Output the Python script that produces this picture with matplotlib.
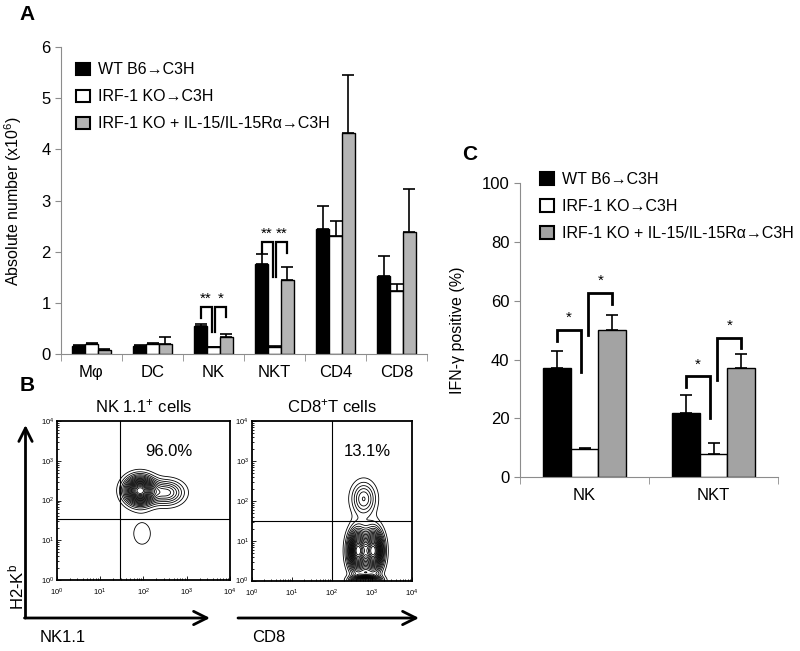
"""
Figura de tres paneles: numero absoluto de celulas (A),
citometria de flujo (B) y porcentaje IFN-gamma positivo (C)
"""
import numpy as np
import matplotlib.pyplot as plt
from matplotlib.patches import Patch
from matplotlib.ticker import LogLocator, NullFormatter

plt.rcParams['font.family'] = ['Liberation Sans', 'DejaVu Sans']
plt.rcParams['mathtext.default'] = 'regular'

# ---- datos ----
groups = ['WT B6→C3H', 'IRF-1 KO→C3H', 'IRF-1 KO + IL-15/IL-15Rα→C3H']

cells_a = ['Mφ', 'DC', 'NK', 'NKT', 'CD4', 'CD8']
wt_a = [0.15, 0.15, 0.55, 1.77, 2.45, 1.53]
wt_a_err = [0.03, 0.03, 0.03, 0.18, 0.45, 0.38]
ko_a = [0.20, 0.20, 0.14, 0.13, 2.30, 1.24]
ko_a_err = [0.02, 0.02, 0.0, 0.02, 0.30, 0.14]
il_a = [0.09, 0.20, 0.34, 1.45, 4.33, 2.39]
il_a_err = [0.02, 0.13, 0.06, 0.25, 1.13, 0.84]
# (categoria, par, altura, pata izq, pata der, etiqueta)
sig_a = [(2, 0, 0.92, 0.70, 0.43, '**'), (2, 1, 0.92, 0.43, 0.72, '*'),
         (3, 0, 2.19, 1.97, 1.51, '**'), (3, 1, 2.19, 1.51, 1.98, '**')]

cells_c = ['NK', 'NKT']
wt_c = [37, 22]
wt_c_err = [6, 6]
ko_c = [9.5, 8]
ko_c_err = [0.3, 3.5]
il_c = [50, 37]
il_c_err = [5, 5]
sig_c = [(0, 0, 50.2, 46.4, 35.8, '*'), (0, 1, 62.8, 48.3, 59.0, '*'),
         (1, 0, 34.4, 30.7, 20.0, '*'), (1, 1, 47.5, 33.2, 44.1, '*')]

# poblaciones (log10): cx, cy, sx, sy, peso
pops_nk = [(1.92, 2.25, 0.22, 0.22, 1.0),
           (2.55, 2.20, 0.25, 0.20, 0.35),
           (1.97, 1.17, 0.20, 0.28, 0.08)]
pops_cd8 = [(2.80, 2.05, 0.20, 0.28, 0.30),
            (2.65, 0.75, 0.15, 0.33, 1.0),
            (3.05, 0.75, 0.15, 0.33, 1.0),
            (2.85, 0.00, 0.22, 0.08, 0.9)]
gates = [(10**1.45, 10**1.53), (10**2.0, 10**1.49)]
pct = ['96.0%', '13.1%']
titles_b = ['NK 1.1$^{+}$ cells', 'CD8$^{+}$T cells']

fig = plt.figure(figsize=(8, 6.51), dpi=100)


def bar_panel(ax, cats, vals, errs, colors, w):
    x = np.arange(len(cats))
    for k in range(3):
        xs = x + (k - 1) * w
        ax.bar(xs, vals[k], w, color=colors[k], edgecolor='black', lw=1, zorder=2)
        ax.errorbar(xs, vals[k], yerr=[np.zeros(len(cats)), errs[k]], fmt='none',
                    ecolor='black', elinewidth=1.2, capsize=4.5, capthick=1.2, zorder=1)
    ax.set_xlim(-0.5, len(cats) - 0.5)
    ax.set_xticks(x)
    ax.set_xticklabels(cats, fontsize=12)
    ax.set_xticks(np.arange(len(cats) + 1) - 0.5, minor=True)
    ax.tick_params(axis='x', which='major', length=0, pad=8)
    ax.tick_params(axis='x', which='minor', length=5, color='#8c8c8c')
    ax.tick_params(axis='y', length=4, color='#8c8c8c', labelsize=12)
    for s in ['top', 'right']:
        ax.spines[s].set_visible(False)
    for s in ['left', 'bottom']:
        ax.spines[s].set_color('#8c8c8c')
    return x


def brackets(ax, x, sig, w, lw, fs, gap):
    for c, p, top, hl, hr, lab in sig:
        if p == 0:
            x0, x1 = x[c] - w, x[c] - 0.03
        else:
            x0, x1 = x[c] + 0.03, x[c] + w
        ax.plot([x0, x0, x1, x1], [hl, top, top, hr], color='black', lw=lw,
                solid_joinstyle='miter', zorder=3)
        ax.text((x0 + x1) / 2, top + gap, lab, ha='center', va='bottom', fontsize=fs)


# ---- panel A ----
colors_a = ['black', 'white', '#b4b4b4']
axA = fig.add_axes([0.07625, 0.456, 0.4575, 0.4716])
xa = bar_panel(axA, cells_a, [wt_a, ko_a, il_a], [wt_a_err, ko_a_err, il_a_err], colors_a, 0.213)
axA.set_ylim(0, 6)
axA.set_yticks(range(7))
axA.set_ylabel('Absolute number (x10$^{6}$)', fontsize=11.5)
axA.yaxis.set_label_coords(-0.1, 0.5)
brackets(axA, xa, sig_a, 0.213, 1.6, 11, 0.02)
hA = [Patch(facecolor=c, edgecolor='black', lw=1.5) for c in colors_a]
axA.legend(hA, groups, loc='upper left', bbox_to_anchor=(0.041, 0.95), frameon=False,
           fontsize=11.5, handlelength=0.85, handleheight=0.85, handletextpad=0.5,
           labelspacing=0.75, borderpad=0, borderaxespad=0)

# ---- panel C ----
colors_c = ['black', 'white', '#a3a3a3']
axC = fig.add_axes([0.65, 0.267, 0.3225, 0.4516])
xc = bar_panel(axC, cells_c, [wt_c, ko_c, il_c], [wt_c_err, ko_c_err, il_c_err], colors_c, 0.217)
axC.set_ylim(0, 100)
axC.set_yticks(range(0, 101, 20))
axC.set_ylabel('IFN-γ positive (%)', fontsize=11.5)
axC.yaxis.set_label_coords(-0.213, 0.5)
brackets(axC, xc, sig_c, 0.217, 2.0, 11, 1.5)
hC = [Patch(facecolor=c, edgecolor='black', lw=1.5) for c in colors_c]
axC.legend(hC, groups, loc='upper left', bbox_to_anchor=(0.078, 1.037), frameon=False,
           fontsize=11.5, handlelength=0.85, handleheight=0.85, handletextpad=0.5,
           labelspacing=0.75, borderpad=0, borderaxespad=0)

# ---- panel B ----
g = np.linspace(0, 4, 400)
GX, GY = np.meshgrid(g, g)
boxes = [[0.0709, 0.1090, 0.2166, 0.2442], [0.3146, 0.1082, 0.2000, 0.2450]]
for i, pops in enumerate([pops_nk, pops_cd8]):
    ax = fig.add_axes(boxes[i])
    Z = np.zeros_like(GX)
    for cx, cy, sx, sy, wgt in pops:
        Z += wgt * np.exp(-0.5 * (((GX - cx) / sx) ** 2 + ((GY - cy) / sy) ** 2))
    Z /= Z.max()
    ax.contour(10**GX, 10**GY, Z, levels=np.linspace(0.05, 0.95, 20),
               colors='black', linewidths=0.6)
    ax.set_xscale('log')
    ax.set_yscale('log')
    ax.set_xlim(1, 1e4)
    ax.set_ylim(1, 1e4)
    ax.axvline(gates[i][0], color='black', lw=0.8)
    ax.axhline(gates[i][1], color='black', lw=0.8)
    ax.xaxis.set_major_locator(LogLocator(base=10, numticks=5))
    ax.yaxis.set_major_locator(LogLocator(base=10, numticks=5))
    ax.xaxis.set_minor_locator(LogLocator(base=10, subs=np.arange(2, 10), numticks=5))
    ax.yaxis.set_minor_locator(LogLocator(base=10, subs=np.arange(2, 10), numticks=5))
    ax.xaxis.set_minor_formatter(NullFormatter())
    ax.yaxis.set_minor_formatter(NullFormatter())
    ax.tick_params(which='both', direction='in', labelsize=5.5, width=0.6)
    ax.tick_params(which='major', length=3)
    ax.tick_params(which='minor', length=1.5)
    ax.tick_params(axis='x', pad=5)
    ax.tick_params(axis='y', pad=2)
    for s in ax.spines.values():
        s.set_linewidth(1.3)
    ax.text(0.72 if i else 0.65, 0.81, pct[i], transform=ax.transAxes,
            ha='center', va='center', fontsize=12)
    ax.set_title(titles_b[i], fontsize=12, pad=6)

arrow = dict(arrowstyle='->', lw=2, color='black', mutation_scale=24, shrinkA=0, shrinkB=0)
fy = 1 - 618 / 651
fig.add_artist(plt.Annotation('', xy=(25.5 / 800, 1 - 425 / 651), xytext=(25.5 / 800, fy),
                              xycoords='figure fraction', arrowprops=arrow))
fig.add_artist(plt.Annotation('', xy=(210 / 800, fy), xytext=(24.5 / 800, fy),
                              xycoords='figure fraction', arrowprops=arrow))
fig.add_artist(plt.Annotation('', xy=(419 / 800, fy), xytext=(238 / 800, fy),
                              xycoords='figure fraction', arrowprops=arrow))
fig.text(16 / 800, 1 - 587 / 651, 'H2-K$^{b}$', rotation=90, ha='center', va='center', fontsize=12)
fig.text(40 / 800, 1 - 637 / 651, 'NK1.1', ha='left', va='center', fontsize=12)
fig.text(252 / 800, 1 - 637 / 651, 'CD8', ha='left', va='center', fontsize=12)

# letras de panel
fig.text(27 / 800, 1 - 15 / 651, 'A', fontsize=15, fontweight='bold', ha='center', va='center')
fig.text(27 / 800, 1 - 386 / 651, 'B', fontsize=15, fontweight='bold', ha='center', va='center')
fig.text(470 / 800, 1 - 155 / 651, 'C', fontsize=15, fontweight='bold', ha='center', va='center')

fig.savefig('out.png', dpi=100)
